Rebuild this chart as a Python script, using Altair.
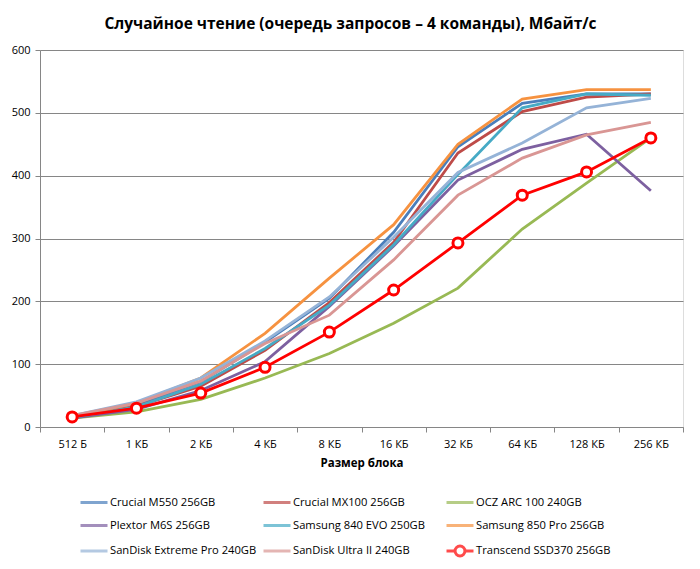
import altair as alt
import pandas as pd

categories = ["512 Б", "1 КБ", "2 КБ", "4 КБ", "8 КБ", "16 КБ", "32 КБ", "64 КБ", "128 КБ", "256 КБ"]

series_names = [
    "Crucial M550 256GB",
    "Crucial MX100 256GB",
    "OCZ ARC 100 240GB",
    "Plextor M6S 256GB",
    "Samsung 840 EVO 250GB",
    "Samsung 850 Pro 256GB",
    "SanDisk Extreme Pro 240GB",
    "SanDisk Ultra II 240GB",
    "Transcend SSD370 256GB",
]

crucial_m550 = [16, 35, 72, 135, 205, 310, 446, 515, 530, 530]
crucial_mx100 = [15, 33, 65, 122, 198, 294, 436, 502, 525, 530]
ocz_arc100 = [14, 24, 44, 78, 117, 165, 221, 315, 388, 460]
plextor_m6s = [14, 28, 58, 104, 192, 288, 393, 442, 466, 376]
samsung_840evo = [15, 32, 68, 125, 194, 290, 402, 508, 530, 528]
samsung_850pro = [17, 38, 78, 149, 237, 322, 450, 522, 537, 537]
sandisk_extreme = [18, 40, 78, 137, 207, 302, 405, 452, 508, 523]
sandisk_ultra2 = [18, 38, 73, 133, 178, 266, 369, 428, 465, 485]
transcend_ssd370 = [16, 30, 54, 95, 151, 218, 293, 369, 406, 460]

colors = ["#4A7EBB", "#BE4B48", "#98B954", "#7D60A0", "#46AAC5", "#F69240", "#95B3D7", "#D99694", "#FF0000"]

all_values = [crucial_m550, crucial_mx100, ocz_arc100, plextor_m6s, samsung_840evo,
              samsung_850pro, sandisk_extreme, sandisk_ultra2, transcend_ssd370]

rows = []
for si, (name, vals) in enumerate(zip(series_names, all_values)):
    for cat, v in zip(categories, vals):
        rows.append({"series": name, "block": cat, "value": v, "order": si})
df = pd.DataFrame(rows)

line_path = "M-1.2,0L1.2,0"
marker_path = ("M-1.2,0L-0.44,0M0.44,0L1.2,0M-0.44,0A0.44,0.44,0,1,1,0.44,0"
               "A0.44,0.44,0,1,1,-0.44,0")
shapes = [line_path] * 8 + [marker_path]

font = "Open Sans"

x_enc = alt.X("block:N", sort=categories, title="Размер блока",
              scale=alt.Scale(paddingInner=0, paddingOuter=0),
              axis=alt.Axis(labelAngle=0, tickBand="extent", grid=False,
                            labelFontSize=11, labelFont=font, labelColor="#000",
                            titleFont=font, titleFontSize=11.5, titleFontWeight="bold",
                            titleColor="#000", titlePadding=8,
                            domainColor="#868686", tickColor="#868686", tickSize=5,
                            labelPadding=6))
y_enc = alt.Y("value:Q", title=None,
              scale=alt.Scale(domain=[0, 600], nice=False),
              axis=alt.Axis(values=[0, 100, 200, 300, 400, 500, 600], format="d",
                            labelFontSize=11, labelFont=font, labelColor="#000",
                            gridColor="#868686", gridWidth=1,
                            domainColor="#868686", tickColor="#868686", tickSize=5,
                            labelPadding=5))
color_scale = alt.Scale(domain=series_names, range=colors)
shape_scale = alt.Scale(domain=series_names, range=shapes)

legend = alt.Legend(title=None, orient="none", legendX=41, legendY=437,
                    columns=3, direction="horizontal", gridAlign="all",
                    labelFont=font, labelFontSize=11.2, labelColor="#000",
                    symbolSize=506, symbolStrokeWidth=3,
                    columnPadding=0, rowPadding=1.5, labelOffset=3,
                    labelLimit=300)

lines = alt.Chart(df).mark_line(strokeWidth=2.8).encode(
    x=x_enc, y=y_enc,
    color=alt.Color("series:N", scale=color_scale, legend=legend),
    detail="series:N",
    order=alt.Order("order:Q"),
)

legend_layer = alt.Chart(df).mark_point(size=0, filled=False, strokeWidth=3).encode(
    x=x_enc, y=y_enc,
    color=alt.Color("series:N", scale=color_scale, legend=legend),
    shape=alt.Shape("series:N", scale=shape_scale, legend=legend),
)

points = alt.Chart(df[df["series"] == "Transcend SSD370 256GB"]).mark_point(
    shape="circle", filled=True, fill="white", stroke="#FF0000", strokeWidth=3,
    size=100, opacity=1
).encode(x=x_enc, y=y_enc)

chart = alt.layer(lines, legend_layer, points).properties(
    width=643, height=377,
    title=alt.TitleParams("Случайное чтение (очередь запросов – 4 команды), Мбайт/с",
                          font=font, fontSize=15.5, fontWeight="bold", color="#000",
                          anchor="middle", offset=12, dx=-11),
    autosize=alt.AutoSizeParams(type="none"),
    padding={"left": 32, "top": 42, "right": 9, "bottom": 134},
).configure_view(stroke=None).configure(background="white")

chart.save("out.html", embed_options={"renderer": "svg", "actions": False})
